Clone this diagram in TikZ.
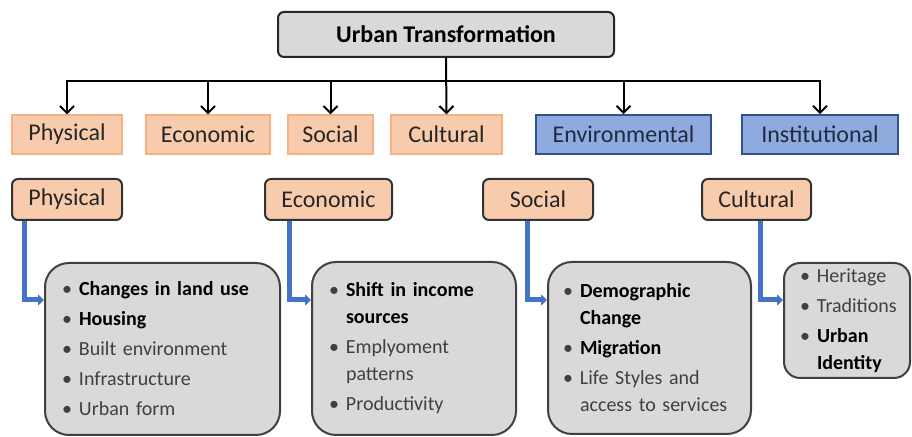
\documentclass[tikz,border=0pt]{standalone}
\usepackage{fontspec}
\setmainfont{Carlito}
\usetikzlibrary{arrows.meta}
\hyphenpenalty=10000
\exhyphenpenalty=10000
\definecolor{salmon}{HTML}{F8CBAD}
\definecolor{salmonline}{HTML}{F4B183}
\definecolor{bluefill}{HTML}{8FAADC}
\definecolor{blueline}{HTML}{2F528F}
\definecolor{bluetext}{HTML}{1F2A44}
\definecolor{boxgray}{HTML}{D9D9D9}
\definecolor{flowblue}{HTML}{4472C4}
\newcommand{\itm}{\makebox[8.5pt][l]{\textbullet}}
\newcommand{\cnt}{\hspace*{8.5pt}}
\begin{document}
\begin{tikzpicture}[x=0.5pt,y=-0.5pt,>={Straight Barb[length=3.5pt,width=7pt]},
  topbox/.style={draw=black!85,fill=boxgray,line width=1pt,rounded corners=3pt,
    minimum width=168pt,minimum height=22.5pt,font=\bfseries\fontsize{12}{14}\selectfont},
  aspect/.style={draw=salmonline,fill=salmon,line width=0.6pt,minimum height=19.5pt,
    inner sep=0pt,text=black!85,font=\fontsize{12}{14}\selectfont},
  extra/.style={draw=blueline,fill=bluefill,line width=0.8pt,minimum height=19.5pt,
    inner sep=0pt,text=bluetext,font=\fontsize{12}{14}\selectfont},
  dimbox/.style={draw=black!80,fill=salmon,line width=1pt,rounded corners=3pt,
    minimum height=20.5pt,inner sep=0pt,text=black!85,font=\fontsize{12}{14}\selectfont},
  listbox/.style={draw=black!75,fill=boxgray,line width=1pt,rounded corners=12pt,
    align=left,inner xsep=8.5pt,inner ysep=0pt,text=black!75,
    font=\fontsize{10}{13.5}\selectfont},
  flow/.style={draw=flowblue,line width=2.5pt,-{Triangle[length=3pt,width=5.5pt]}},
  tree/.style={line width=1pt,->}]
\useasboundingbox (0,0) rectangle (912,437);

% top level
\node[topbox] (ut) at (446,34.5) {Urban Transformation};

% first row of aspects
\node[aspect,minimum width=55pt] (phy) at (67,134.5) {Physical};
\node[aspect,minimum width=62pt] (eco) at (208,134.5) {Economic};
\node[aspect,minimum width=42.5pt] (soc) at (330.5,134.5) {Social};
\node[aspect,minimum width=55.5pt] (cul) at (446.5,134.5) {Cultural};
\node[extra,minimum width=87.5pt] (env) at (623.5,134.5) {Environmental};
\node[extra,minimum width=78pt] (ins) at (820,134.5) {Institutional};

\coordinate (bus) at (446,81);
\draw[tree] (ut.south) -- (cul.north);
\draw[tree,<->] (phy.north) -- (phy.north |- bus) -- (ins.north |- bus) -- (ins.north);
\foreach \n in {eco,soc,env}
  \draw[tree] (\n.north |- bus) -- (\n.north);

% second row
\node[dimbox,minimum width=55pt] (phy2) at (67,199.5) {Physical};
\node[dimbox,minimum width=63.5pt] (eco2) at (328.5,199.5) {Economic};
\node[dimbox,minimum width=55pt] (soc2) at (538,199.5) {Social};
\node[dimbox,minimum width=54.5pt] (cul2) at (756.5,199.5) {Cultural};

% lists
\node[listbox,text width=100.5pt,minimum height=86pt] (lphy) at (162.5,349) {%
  \itm\textcolor{black}{\textbf{Changes in land use}}\\[1.5pt]
  \itm\textcolor{black}{\textbf{Housing}}\\[1.5pt]
  \itm Built environment\\[1.5pt]
  \itm Infrastructure\\[1.5pt]
  \itm Urban form};
\node[listbox,text width=85pt,minimum height=86.5pt] (leco) at (414,348.5) {%
  \itm\textcolor{black}{\textbf{Shift in income}}\\
  \cnt\textcolor{black}{\textbf{sources}}\\[1.5pt]
  \itm Emplyoment\\
  \cnt patterns\\[1.5pt]
  \itm Productivity};
\node[listbox,inner xsep=7.5pt,text width=86.5pt,minimum height=86pt] (lsoc) at (649.5,348) {%
  \itm\textcolor{black}{\textbf{Demographic}}\\
  \cnt\textcolor{black}{\textbf{Change}}\\[1.5pt]
  \itm\textcolor{black}{\textbf{Migration}}\\[1.5pt]
  \itm Life Styles and\\
  \cnt access to services};
\node[listbox,rounded corners=8pt,inner xsep=8pt,text width=47pt,minimum height=57.5pt] (lcul) at (847,320.5) {%
  \itm Heritage\\[1.5pt]
  \itm Traditions\\[1.5pt]
  \itm\textcolor{black}{\textbf{Urban}}\\
  \cnt\textcolor{black}{\textbf{Identity}}};

% blue connectors
\draw[flow] ([xshift=6.5pt]phy2.south west) |- ([yshift=24.5pt]lphy.west);
\draw[flow] ([xshift=12.5pt]eco2.south west) |- ([yshift=24.25pt]leco.west);
\draw[flow] ([xshift=22.5pt]soc2.south west) |- ([yshift=24pt]lsoc.west);
\draw[flow] ([xshift=29.5pt]cul2.south west) |- ([yshift=10.25pt]lcul.west);
\end{tikzpicture}
\end{document}
